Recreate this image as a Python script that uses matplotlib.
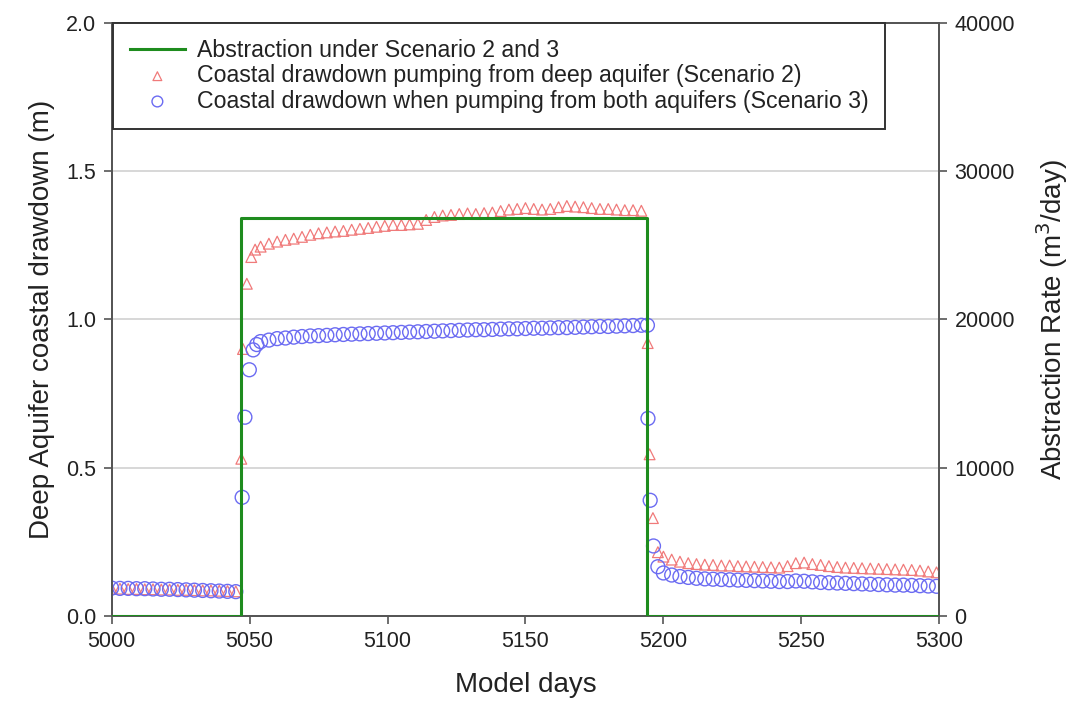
import matplotlib.pyplot as plt
import numpy as np

plt.rcParams['font.family'] = ['Liberation Sans', 'DejaVu Sans']

# --- data ---
# abstraction rate (m3/day) under scenario 2 and 3
abs_days = [5000, 5047, 5047, 5194, 5194, 5300]
abs_rate = [0, 0, 26800, 26800, 0, 0]

# sampling days shared by both drawdown series
pre_days = [5000, 5003, 5006, 5009, 5012, 5015, 5018, 5021, 5024, 5027,
            5030, 5033, 5036, 5039, 5042, 5045]
pump_days = [5054, 5057, 5060, 5063, 5066, 5069, 5072, 5075, 5078, 5081,
             5084, 5087, 5090, 5093, 5096, 5099, 5102, 5105, 5108, 5111,
             5114, 5117, 5120, 5123, 5126, 5129, 5132, 5135, 5138, 5141,
             5144, 5147, 5150, 5153, 5156, 5159, 5162, 5165, 5168, 5171,
             5174, 5177, 5180, 5183, 5186, 5189, 5192]
post_days = [5200, 5203, 5206, 5209, 5212, 5215, 5218, 5221, 5224, 5227,
             5230, 5233, 5236, 5239, 5242, 5245, 5248, 5251, 5254, 5257,
             5260, 5263, 5266, 5269, 5272, 5275, 5278, 5281, 5284, 5287,
             5290, 5293, 5296, 5299]

# scenario 2: pumping from deep aquifer (triangles)
s2_pre = [0.092, 0.092, 0.091, 0.091, 0.090, 0.090, 0.089, 0.089, 0.088, 0.088,
          0.087, 0.086, 0.086, 0.085, 0.084, 0.083]
s2_on_days = [5047, 5047.6, 5049, 5050.6, 5052]
s2_on = [0.53, 0.90, 1.12, 1.21, 1.235]
s2_pump = [1.245, 1.255, 1.262, 1.268, 1.272, 1.278, 1.285, 1.290, 1.293, 1.296,
           1.298, 1.302, 1.305, 1.308, 1.312, 1.315, 1.318, 1.318, 1.320, 1.322,
           1.335, 1.345, 1.350, 1.352, 1.355, 1.357, 1.355, 1.358, 1.360, 1.365,
           1.370, 1.372, 1.375, 1.372, 1.370, 1.372, 1.378, 1.382, 1.380, 1.378,
           1.375, 1.372, 1.372, 1.370, 1.368, 1.368, 1.366]
s2_off_days = [5194.3, 5195, 5196.2, 5198]
s2_off = [0.92, 0.545, 0.33, 0.215]
s2_post = [0.200, 0.190, 0.183, 0.178, 0.175, 0.173, 0.172, 0.170, 0.170, 0.168,
           0.167, 0.166, 0.165, 0.164, 0.163, 0.168, 0.178, 0.180, 0.175, 0.172,
           0.168, 0.165, 0.163, 0.162, 0.161, 0.160, 0.159, 0.158, 0.157, 0.156,
           0.155, 0.153, 0.150, 0.147]

# scenario 3: pumping from both aquifers (circles)
s3_pre = [0.094, 0.093, 0.093, 0.092, 0.092, 0.091, 0.090, 0.090, 0.089, 0.088,
          0.087, 0.086, 0.085, 0.084, 0.083, 0.082]
s3_on_days = [5047.3, 5048.3, 5049.9, 5051.3, 5052.6]
s3_on = [0.40, 0.67, 0.83, 0.897, 0.915]
s3_pump = [0.925, 0.930, 0.935, 0.937, 0.940, 0.942, 0.944, 0.945, 0.946, 0.948,
           0.949, 0.950, 0.951, 0.952, 0.953, 0.954, 0.955, 0.956, 0.957, 0.958,
           0.959, 0.960, 0.961, 0.962, 0.963, 0.964, 0.965, 0.965, 0.966, 0.967,
           0.968, 0.968, 0.969, 0.970, 0.970, 0.971, 0.972, 0.972, 0.973, 0.974,
           0.975, 0.976, 0.976, 0.977, 0.978, 0.979, 0.980]
s3_off_days = [5194.2, 5194.4, 5195.2, 5196.4, 5198]
s3_off = [0.98, 0.666, 0.39, 0.236, 0.166]
s3_post = [0.145, 0.138, 0.133, 0.130, 0.127, 0.125, 0.124, 0.123, 0.122, 0.121,
           0.120, 0.119, 0.118, 0.117, 0.116, 0.116, 0.118, 0.117, 0.115, 0.113,
           0.112, 0.111, 0.110, 0.109, 0.108, 0.107, 0.106, 0.105, 0.104, 0.104,
           0.103, 0.102, 0.101, 0.100]

s2_days = pre_days + s2_on_days + pump_days + s2_off_days + post_days
s2_vals = s2_pre + s2_on + s2_pump + s2_off + s2_post
s3_days = pre_days + s3_on_days + pump_days + s3_off_days + post_days
s3_vals = s3_pre + s3_on + s3_pump + s3_off + s3_post

# --- figure ---
fig = plt.figure(figsize=(10.84, 7.16), dpi=100)
ax = fig.add_axes([0.103, 0.1397, 0.7635, 0.8286])
ax2 = ax.twinx()

spine_col = '#555555'
for a in (ax, ax2):
    for s in a.spines.values():
        s.set_color(spine_col)
        s.set_linewidth(1.3)

# gridlines
for g in [0.5, 1.0, 1.5]:
    ax.axhline(g, color='#d4d4d4', linewidth=1.3, zorder=0)

ax.scatter(s2_days, s2_vals, marker='^', s=60, facecolors='none',
           edgecolors='#f07a7a', linewidths=0.9, zorder=3)
ax.scatter(s3_days, s3_vals, marker='o', s=100, facecolors='none',
           edgecolors='#6b6bf2', linewidths=1.0, zorder=3)
ax2.plot(abs_days, abs_rate, color='#1e8c1e', linewidth=2.2, zorder=4)

ax.set_xlim(5000, 5300)
ax.set_ylim(0, 2.0)
ax2.set_ylim(0, 40000)
ax.set_xticks([5000, 5050, 5100, 5150, 5200, 5250, 5300])
ax.set_yticks([0.0, 0.5, 1.0, 1.5, 2.0])
ax.set_yticklabels(['0.0', '0.5', '1.0', '1.5', '2.0'])
ax2.set_yticks([0, 10000, 20000, 30000, 40000])

for a in (ax, ax2):
    a.tick_params(direction='out', length=6, width=1.2, color=spine_col,
                  labelsize=15.5, labelcolor='#222222', pad=5)

ax.set_xlabel('Model days', fontsize=20, color='#222222', labelpad=14)
ax.set_ylabel('Deep Aquifer coastal drawdown (m)', fontsize=20,
              color='#222222', labelpad=8)
ax2.set_ylabel('Abstraction Rate (m$^3$/day)', fontsize=20,
               color='#222222', labelpad=14)

# legend
h1, = ax2.plot([], [], color='#1e8c1e', linewidth=2.2)
h2 = ax2.scatter([], [], marker='^', s=40, facecolors='none',
                 edgecolors='#f07a7a', linewidths=0.9)
h3 = ax2.scatter([], [], marker='o', s=60, facecolors='none',
                 edgecolors='#6b6bf2', linewidths=1.0)
leg = ax2.legend([h1, h2, h3],
                 ['Abstraction under Scenario 2 and 3',
                  'Coastal drawdown pumping from deep aquifer (Scenario 2)',
                  'Coastal drawdown when pumping from both aquifers (Scenario 3)'],
                 loc='upper left', bbox_to_anchor=(0.002, 1.0),
                 borderaxespad=0, fontsize=16.7, frameon=True, fancybox=False,
                 framealpha=1, edgecolor='#333333', handlelength=2.4,
                 borderpad=0.7, labelspacing=0.1, handletextpad=0.5)
leg.get_frame().set_linewidth(1.4)
for t in leg.get_texts():
    t.set_color('#222222')

fig.savefig('out.png', dpi=100)
